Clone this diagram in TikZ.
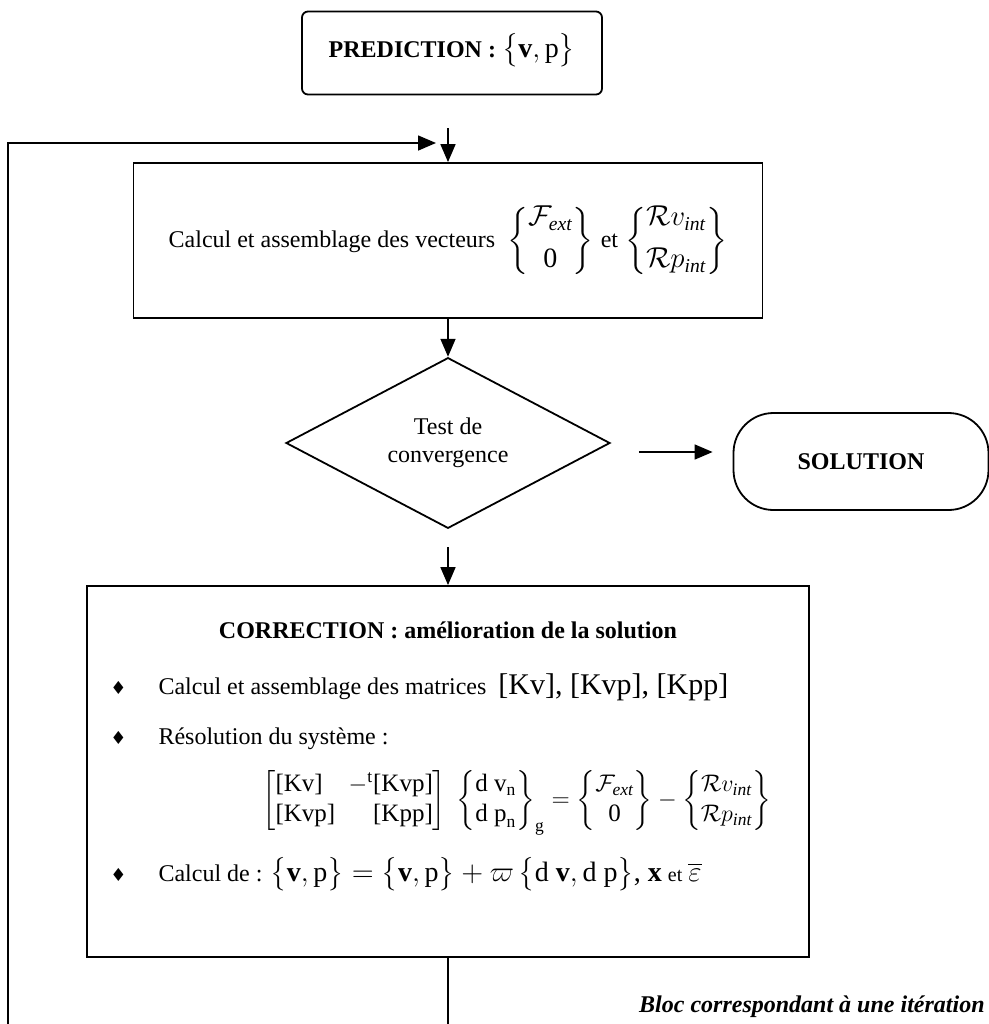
\documentclass[tikz,border=0pt]{standalone}
\usepackage{amsmath}
\usepackage{amssymb}
\usepackage{fontspec}
\setmainfont{Liberation Serif}
\newfontfamily\symfont{DejaVu Sans}
\usetikzlibrary{positioning,arrows.meta,shapes.geometric}
\newcommand{\bul}{{\symfont\fontsize{9}{10}\selectfont\char"2666}}

\begin{document}
\begin{tikzpicture}[x=0.5pt, y=-0.5pt,
    box/.style={draw, line width=0.9pt, align=center, font=\fontsize{12}{14}\selectfont},
    decision/.style={draw, diamond, line width=0.9pt, align=center, inner sep=0pt, minimum width=162pt, minimum height=67pt, font=\fontsize{12}{14}\selectfont},
    terminal/.style={draw, rounded corners=20pt, line width=0.9pt, minimum width=127.5pt, minimum height=48.5pt, font=\bfseries\fontsize{12}{14}\selectfont},
    arr/.style={-{Triangle[length=9pt, width=7.5pt]}, line width=0.8pt},
    plain/.style={line width=0.8pt},
    item/.style={anchor=base west, inner sep=0pt, font=\fontsize{12}{14}\selectfont}
]
\useasboundingbox (0,0) rectangle (989,1024);
% Nodes
\node[box, rounded corners=3pt, minimum width=150pt, minimum height=41.5pt, text depth=8pt] (pred) at (452,53)
  {\textbf{PREDICTION :} {\fontsize{14}{16}\selectfont$\bigl\{\textbf{v}, \text{p}\bigr\}$}};
\node[box, minimum width=314.5pt, minimum height=77.5pt] (vec) at (448,240.5)
  {Calcul et assemblage des vecteurs \ {\fontsize{14}{16}\selectfont$\begin{Bmatrix}\mathcal{F}_{\mathit{ext}}\\[5pt] \text{0}\end{Bmatrix}$ {\fontsize{12}{14}\selectfont et} $\begin{Bmatrix}\mathcal{R}v_{\mathit{int}}\\[5pt] \mathcal{R}p_{\mathit{int}}\end{Bmatrix}$}};
\node[decision] (test) at (448,443) {Test de\\convergence};
\node[terminal] (sol) at (861,461.5) {SOLUTION};
\node[box, minimum width=361pt, minimum height=185.5pt] (corr) at (448,771.5) {};
\node[item, anchor=base, font=\bfseries\fontsize{12}{14}\selectfont] (title) at (448,638) {CORRECTION : amélioration de la solution};
\node[item] (mat) at (110,694) {\bul\hspace{16pt}Calcul et assemblage des matrices \ {\fontsize{15}{17}\selectfont [Kv], [Kvp], [Kpp]}};
\node[item] (sys) at (110,744) {\bul\hspace{16pt}Résolution du système :};
\node[item, anchor=west, font=\fontsize{12.5}{15}\selectfont] (eq) at (262,803)
  {$\left[\begin{array}{@{}l@{\;\;}r@{}}\text{[Kv]} & -{}^{\text{t}}\text{[Kvp]}\\ \text{[Kvp]} & \text{[Kpp]}\end{array}\right]\;
   \begin{Bmatrix}\text{d v}_{\text{n}}\\ \text{d p}_{\text{n}}\end{Bmatrix}_{\text{g}}
   = \begin{Bmatrix}\mathcal{F}_{\mathit{ext}}\\ \text{0}\end{Bmatrix}
   - \begin{Bmatrix}\mathcal{R}v_{\mathit{int}}\\ \mathcal{R}p_{\mathit{int}}\end{Bmatrix}$};
\node[item] (upd) at (110,881) {\bul\hspace{16pt}Calcul de : {\fontsize{14}{16}\selectfont$\bigl\{\textbf{v}, \text{p}\bigr\} = \bigl\{\textbf{v}, \text{p}\bigr\} + \varpi\,\bigl\{\text{d }\textbf{v}, \text{d p}\bigr\}$, $\textbf{x}$} {\fontsize{10}{12}\selectfont et} {\fontsize{14}{16}\selectfont$\overline{\varepsilon}$}};
\node[item, anchor=base east, font=\bfseries\itshape\fontsize{12}{14}\selectfont] (bloc) at (985,1012) {Bloc correspondant à une itération};
\coordinate (loopin) at (8,1024);
\coordinate (loopturn) at (8,143);
\coordinate (loopend) at (436,143);
\coordinate (colin) at (448,128);
\coordinate (corrout) at (448,1024);
% Arrows
\draw[arr] (loopin) -- (loopturn) -- (loopend);
\draw[arr] (colin) -- (vec.north);
\draw[arr] (vec.south) -- (test.north);
\draw[arr, shorten <=9pt] (test.south) -- (corr.north);
\draw[arr, shorten <=14pt, shorten >=10pt] ([yshift=-4.5pt]test.east) -- ([yshift=-4.5pt]test.east -| sol.west);
\draw[plain] (corr.south) -- (corrout);
\end{tikzpicture}
\end{document}
